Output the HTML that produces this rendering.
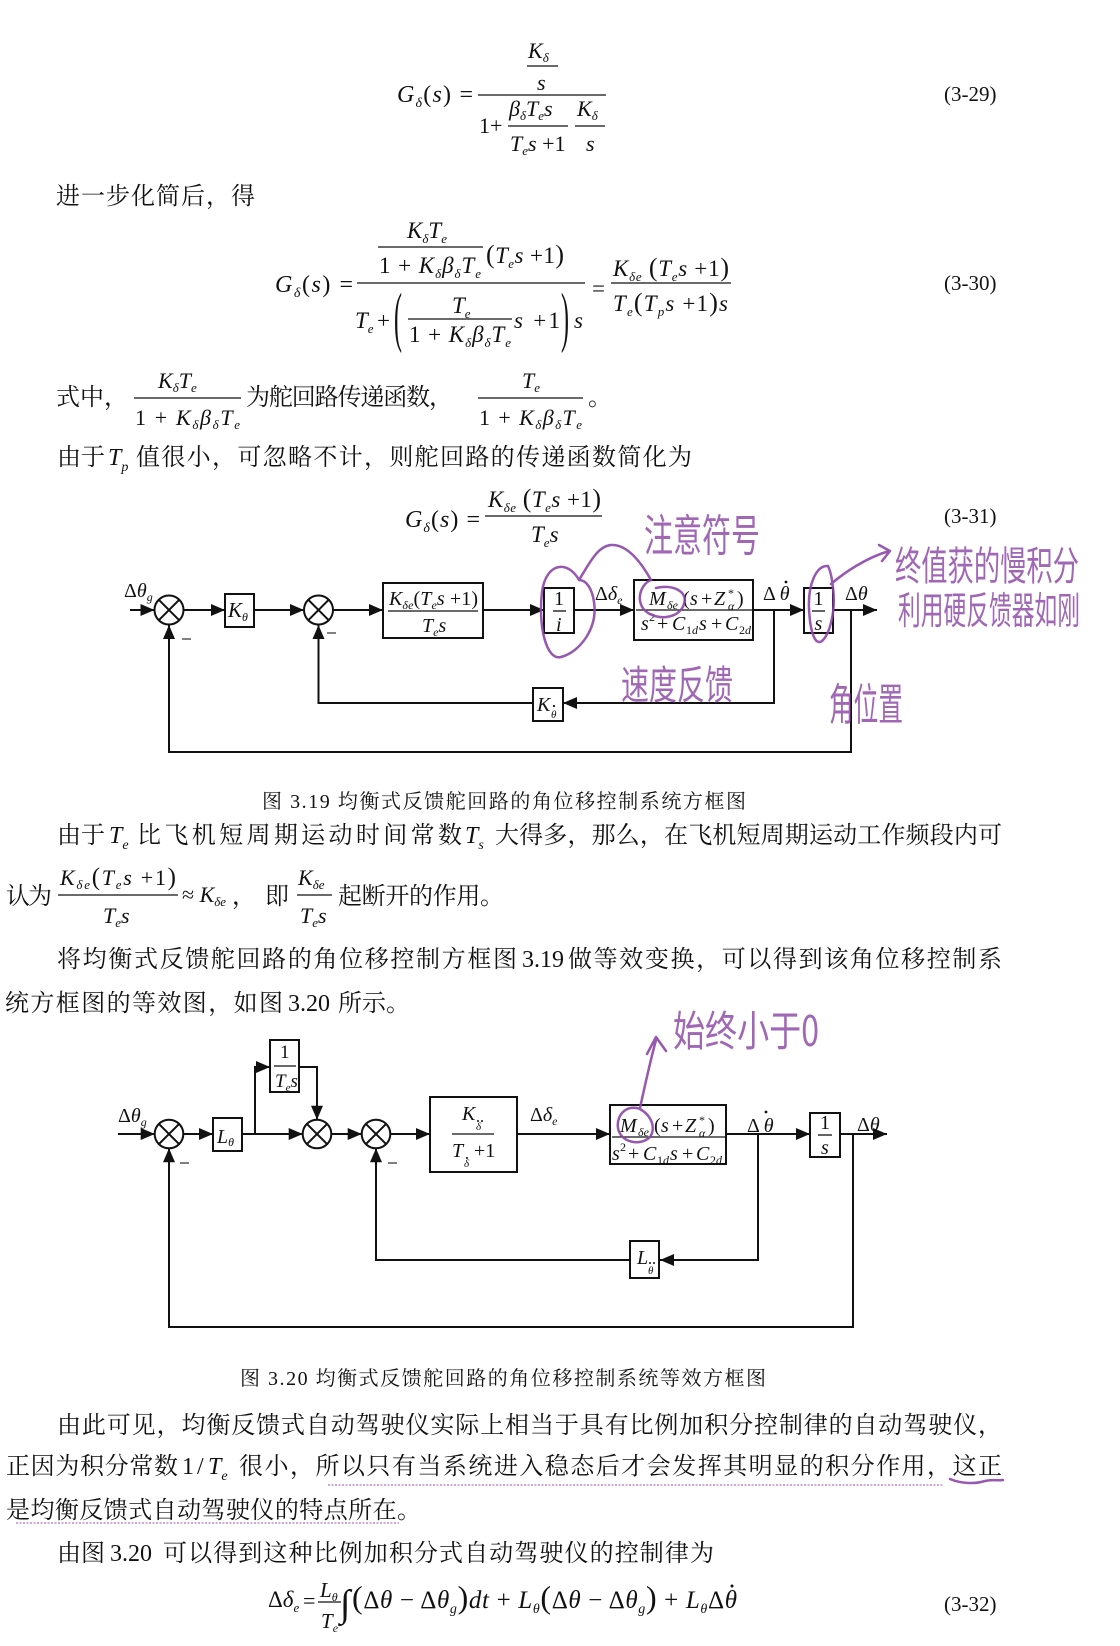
<!DOCTYPE html>
<html><head><meta charset="utf-8">
<style>
html,body{margin:0;padding:0;background:#fff;overflow:hidden;}
svg{display:block;}
svg text{font-family:"Liberation Serif","Noto Serif CJK SC",serif;fill:#111;}
.i{font-style:italic;}
.hw{font-family:"Noto Sans CJK SC","WenQuanYi Zen Hei",sans-serif;fill:#8c46a6;opacity:.82;}
.ln{stroke:#111;stroke-width:2;fill:none;}
.bx{stroke:#111;stroke-width:2;fill:none;}
.fl{stroke:#111;stroke-width:1.3;}
.pp{stroke:#8c46a6;stroke-width:2.5;fill:none;stroke-linecap:round;stroke-linejoin:round;opacity:.9;}
.ud{stroke:#b58cca;stroke-width:1.6;stroke-dasharray:2 1.5;}
</style></head>
<body>
<svg width="1120" height="1646" viewBox="0 0 1120 1646" xmlns="http://www.w3.org/2000/svg">
<defs>
<marker id="ar" viewBox="0 0 14 12" markerWidth="14" markerHeight="12" refX="14" refY="6" orient="auto" markerUnits="userSpaceOnUse"><path d="M0,0 L14,6 L0,12 z" fill="#111"/></marker>
</defs>

<!-- ===== Formula 3-29 ===== -->
<text x="397" y="102" font-size="24" textLength="76"><tspan class="i">G</tspan><tspan class="i" font-size="14" dy="5">δ</tspan><tspan dy="-5">(</tspan><tspan class="i">s</tspan>) =</text>
<text x="528" y="58" font-size="22"><tspan class="i">K</tspan><tspan class="i" font-size="13" dy="4">δ</tspan></text>
<line x1="527" y1="66" x2="558" y2="66" class="fl"/>
<text x="537" y="90" class="i" font-size="22">s</text>
<line x1="478" y1="95" x2="606" y2="95" class="fl"/>
<text x="479" y="133" font-size="22">1+</text>
<text x="509" y="116" font-size="22"><tspan class="i">β</tspan><tspan class="i" font-size="13" dy="4">δ</tspan><tspan class="i" dy="-4">T</tspan><tspan class="i" font-size="13" dy="4">e</tspan><tspan class="i" dy="-4">s</tspan></text>
<line x1="508" y1="126" x2="568" y2="126" class="fl"/>
<text x="510" y="151" font-size="22"><tspan class="i">T</tspan><tspan class="i" font-size="13" dy="4">e</tspan><tspan class="i" dy="-4">s</tspan> +1</text>
<text x="577" y="116" font-size="22"><tspan class="i">K</tspan><tspan class="i" font-size="13" dy="4">δ</tspan></text>
<line x1="575" y1="126" x2="605" y2="126" class="fl"/>
<text x="586" y="151" class="i" font-size="22">s</text>
<text x="944" y="101" font-size="21">(3-29)</text>

<!-- L1 -->
<text x="56" y="204" font-size="24" textLength="199" lengthAdjust="spacing">进一步化简后，得</text>

<!-- ===== Formula 3-30 ===== -->
<text x="275" y="292" font-size="24" textLength="78"><tspan class="i">G</tspan><tspan class="i" font-size="14" dy="5">δ</tspan><tspan dy="-5">(</tspan><tspan class="i">s</tspan>) =</text>
<text x="407" y="238" font-size="23"><tspan class="i">K</tspan><tspan class="i" font-size="13" dy="5">δ</tspan><tspan class="i" dy="-5">T</tspan><tspan class="i" font-size="13" dy="5">e</tspan></text>
<line x1="378" y1="247" x2="483" y2="247" class="fl"/>
<text x="379" y="273" font-size="23" textLength="102">1 + <tspan class="i">K</tspan><tspan class="i" font-size="13" dy="5">δ</tspan><tspan class="i" dy="-5">β</tspan><tspan class="i" font-size="13" dy="5">δ</tspan><tspan class="i" dy="-5">T</tspan><tspan class="i" font-size="13" dy="5">e</tspan></text>
<text x="486" y="263" font-size="23" textLength="78"><tspan font-size="26">(</tspan><tspan class="i">T</tspan><tspan class="i" font-size="13" dy="5">e</tspan><tspan class="i" dy="-5">s</tspan> +1<tspan font-size="26">)</tspan></text>
<line x1="357" y1="283" x2="585" y2="283" class="fl"/>
<text x="355" y="328" font-size="23" class="i">T<tspan font-size="13" dy="5">e</tspan></text>
<text x="377" y="328" font-size="23">+</text>
<text transform="translate(394,339) scale(1,2.8)" font-size="24">(</text>
<text x="452" y="313" font-size="23" class="i">T<tspan font-size="13" dy="5">e</tspan></text>
<line x1="408" y1="319" x2="512" y2="319" class="fl"/>
<text x="409" y="342" font-size="23" textLength="102">1 + <tspan class="i">K</tspan><tspan class="i" font-size="13" dy="5">δ</tspan><tspan class="i" dy="-5">β</tspan><tspan class="i" font-size="13" dy="5">δ</tspan><tspan class="i" dy="-5">T</tspan><tspan class="i" font-size="13" dy="5">e</tspan></text>
<text x="514" y="328" font-size="23" textLength="46"><tspan class="i">s</tspan> +1</text>
<text transform="translate(561,339) scale(1,2.8)" font-size="24">)</text>
<text x="574" y="328" class="i" font-size="23">s</text>
<text x="592" y="296" font-size="23">=</text>
<text x="613" y="276" font-size="23" textLength="116"><tspan class="i">K</tspan><tspan class="i" font-size="13" dy="5">δe</tspan><tspan dy="-5"> </tspan><tspan font-size="26">(</tspan><tspan class="i">T</tspan><tspan class="i" font-size="13" dy="5">e</tspan><tspan class="i" dy="-5">s</tspan> +1<tspan font-size="26">)</tspan></text>
<line x1="611" y1="283" x2="731" y2="283" class="fl"/>
<text x="613" y="311" font-size="23" textLength="115"><tspan class="i">T</tspan><tspan class="i" font-size="13" dy="5">e</tspan><tspan dy="-5" font-size="26">(</tspan><tspan class="i">T</tspan><tspan class="i" font-size="13" dy="5">p</tspan><tspan class="i" dy="-5">s</tspan> +1<tspan font-size="26">)</tspan><tspan class="i">s</tspan></text>
<text x="944" y="290" font-size="21">(3-30)</text>

<!-- L2 式中 -->
<text x="56" y="405" font-size="24">式中，</text>
<text x="158" y="388" font-size="22"><tspan class="i">K</tspan><tspan class="i" font-size="13" dy="4">δ</tspan><tspan class="i" dy="-4">T</tspan><tspan class="i" font-size="13" dy="4">e</tspan></text>
<line x1="134" y1="398" x2="241" y2="398" class="fl"/>
<text x="135" y="425" font-size="22" textLength="105">1 + <tspan class="i">K</tspan><tspan class="i" font-size="13" dy="4">δ</tspan><tspan class="i" dy="-4">β</tspan><tspan class="i" font-size="13" dy="4">δ</tspan><tspan class="i" dy="-4">T</tspan><tspan class="i" font-size="13" dy="4">e</tspan></text>
<text x="246" y="405" font-size="24" textLength="207" lengthAdjust="spacing">为舵回路传递函数，</text>
<text x="522" y="388" font-size="22" class="i">T<tspan font-size="13" dy="4">e</tspan></text>
<line x1="478" y1="398" x2="583" y2="398" class="fl"/>
<text x="479" y="425" font-size="22" textLength="103">1 + <tspan class="i">K</tspan><tspan class="i" font-size="13" dy="4">δ</tspan><tspan class="i" dy="-4">β</tspan><tspan class="i" font-size="13" dy="4">δ</tspan><tspan class="i" dy="-4">T</tspan><tspan class="i" font-size="13" dy="4">e</tspan></text>
<text x="588" y="405" font-size="24">。</text>

<!-- L3 -->
<text x="57" y="465" font-size="24" textLength="48">由于</text>
<text x="108" y="465" font-size="24" class="i">T<tspan font-size="14" dy="6">p</tspan></text>
<text x="136" y="465" font-size="24" textLength="556" lengthAdjust="spacing">值很小，可忽略不计，则舵回路的传递函数简化为</text>

<!-- Formula 3-31 -->
<text x="405" y="527" font-size="24" textLength="75"><tspan class="i">G</tspan><tspan class="i" font-size="14" dy="5">δ</tspan><tspan dy="-5">(</tspan><tspan class="i">s</tspan>) =</text>
<text x="488" y="507" font-size="23" textLength="113"><tspan class="i">K</tspan><tspan class="i" font-size="13" dy="5">δe</tspan><tspan dy="-5"> </tspan><tspan font-size="26">(</tspan><tspan class="i">T</tspan><tspan class="i" font-size="13" dy="5">e</tspan><tspan class="i" dy="-5">s</tspan> +1<tspan font-size="26">)</tspan></text>
<line x1="485" y1="516" x2="602" y2="516" class="fl"/>
<text x="531" y="542" font-size="23" class="i">T<tspan font-size="13" dy="5">e</tspan><tspan dy="-5">s</tspan></text>
<text x="944" y="523" font-size="21">(3-31)</text>

<!-- ===== Diagram 1 ===== -->
<g>
<text x="124" y="597" font-size="20">Δ<tspan class="i">θ</tspan><tspan class="i" font-size="12" dy="4">g</tspan></text>
<line x1="130" y1="610" x2="154.5" y2="610" class="ln" marker-end="url(#ar)"/>
<circle cx="169" cy="610" r="14.5" class="bx"/>
<line x1="158.7" y1="599.7" x2="179.3" y2="620.3" class="ln"/>
<line x1="158.7" y1="620.3" x2="179.3" y2="599.7" class="ln"/>
<line x1="182" y1="639" x2="191" y2="639" stroke="#555" stroke-width="1.5"/>
<line x1="183.5" y1="610" x2="225" y2="610" class="ln" marker-end="url(#ar)"/>
<rect x="225" y="594" width="29" height="33" class="bx"/>
<text x="228" y="617" font-size="21" class="i">K<tspan font-size="12" dy="4">θ</tspan></text>
<line x1="254" y1="610" x2="304" y2="610" class="ln" marker-end="url(#ar)"/>
<circle cx="318.5" cy="610" r="14.5" class="bx"/>
<line x1="308.2" y1="599.7" x2="328.8" y2="620.3" class="ln"/>
<line x1="308.2" y1="620.3" x2="328.8" y2="599.7" class="ln"/>
<line x1="327" y1="633" x2="336" y2="633" stroke="#555" stroke-width="1.5"/>
<line x1="333" y1="610" x2="383" y2="610" class="ln" marker-end="url(#ar)"/>
<rect x="383" y="583" width="100" height="55" class="bx"/>
<text x="389" y="605" font-size="20" textLength="89"><tspan class="i">K</tspan><tspan class="i" font-size="12" dy="4">δe</tspan><tspan dy="-4">(</tspan><tspan class="i">T</tspan><tspan class="i" font-size="12" dy="4">e</tspan><tspan class="i" dy="-4">s</tspan> +1)</text>
<line x1="388" y1="611" x2="478" y2="611" class="fl"/>
<text x="422" y="632" font-size="20" class="i">T<tspan font-size="12" dy="4">e</tspan><tspan dy="-4">s</tspan></text>
<line x1="483" y1="610" x2="544" y2="610" class="ln" marker-end="url(#ar)"/>
<rect x="544" y="588" width="30" height="45" class="bx"/>
<text x="554" y="605" font-size="20">1</text>
<line x1="553" y1="611" x2="566" y2="611" class="fl"/>
<text x="556" y="631" font-size="20" class="i">i</text>
<line x1="574" y1="610" x2="634" y2="610" class="ln" marker-end="url(#ar)"/>
<text x="595" y="600" font-size="20">Δ<tspan class="i">δ</tspan><tspan class="i" font-size="12" dy="4">e</tspan></text>
<rect x="634" y="580" width="119" height="60" class="bx"/>
<line x1="636" y1="610" x2="752" y2="610" class="fl"/>
<text y="605" font-size="20"><tspan x="649" class="i">M</tspan><tspan x="667" y="609" class="i" font-size="12">δe</tspan><tspan x="683" y="605">(</tspan><tspan x="690" class="i">s</tspan><tspan x="701">+</tspan><tspan x="714" class="i">Z</tspan></text>
<text x="728" y="597" font-size="12">*</text>
<text x="728" y="610" font-size="12" class="i">α</text>
<text x="737" y="605" font-size="20">)</text>
<text y="630" font-size="20"><tspan x="641" class="i">s</tspan><tspan x="649" y="621" font-size="12">2</tspan><tspan x="657" y="630">+</tspan><tspan x="672" class="i">C</tspan><tspan x="686" y="634" font-size="12">1</tspan><tspan class="i" font-size="12">d</tspan><tspan x="699" y="630" class="i">s</tspan><tspan x="711">+</tspan><tspan x="725" class="i">C</tspan><tspan x="739" y="634" font-size="12">2</tspan><tspan class="i" font-size="12">d</tspan></text>
<line x1="753" y1="610" x2="804" y2="610" class="ln" marker-end="url(#ar)"/>
<text x="763" y="600" font-size="20">Δ <tspan class="i">θ</tspan></text>
<circle cx="786" cy="582" r="1.4" fill="#111"/>
<polyline points="774,610 774,703 563,703" class="ln" marker-end="url(#ar)"/>
<rect x="533" y="688" width="30" height="33" class="bx"/>
<text x="537" y="711" font-size="20" class="i">K</text>
<text x="551" y="718" font-size="11" class="i">θ</text>
<circle cx="554" cy="706" r="1.1" fill="#111"/>
<polyline points="533,703 318.5,703 318.5,625" class="ln" marker-end="url(#ar)"/>
<rect x="804" y="588" width="29" height="45" class="bx"/>
<text x="813.5" y="605" font-size="20">1</text>
<line x1="812" y1="611" x2="825" y2="611" class="fl"/>
<text x="814.5" y="630" font-size="20" class="i">s</text>
<line x1="833" y1="610" x2="877" y2="610" class="ln" marker-end="url(#ar)"/>
<text x="845" y="600" font-size="20">Δ<tspan class="i">θ</tspan></text>
<polyline points="851,610 851,752 169,752 169,625" class="ln" marker-end="url(#ar)"/>
</g>

<!-- handwriting diagram 1 -->
<text class="hw" x="644" y="551" font-size="44" textLength="116" lengthAdjust="spacingAndGlyphs">注意符号</text>
<path class="pp" d="M579,580 C568,560 546,562 542,592 C538,625 546,661 561,657 C580,652 598,628 594,602 C592,588 586,580 579,580 M579,580 C590,562 598,546 611,545 C626,544 640,560 651,580 C640,584 634,604 648,613 C662,621 680,617 684,604 C688,592 674,584 656,588"/>
<path class="pp" d="M828,566 C816,565 808,585 809,608 C810,632 815,646 822,641 C830,634 836,610 833,588 C832,578 830,570 828,566 M831,584 C845,572 866,558 889,551 M879,545 L890,551 L882,561"/>
<text class="hw" x="895" y="580" font-size="40" textLength="184" lengthAdjust="spacingAndGlyphs">终值获的慢积分</text>
<text class="hw" x="898" y="624" font-size="38" textLength="182" lengthAdjust="spacingAndGlyphs">利用硬反馈器如刚</text>
<text class="hw" x="621" y="699" font-size="40" textLength="112" lengthAdjust="spacingAndGlyphs">速度反馈</text>
<text class="hw" x="829" y="720" font-size="44" textLength="74" lengthAdjust="spacingAndGlyphs">角位置</text>

<!-- caption 1 -->
<text x="262" y="808" font-size="20" textLength="484" lengthAdjust="spacing">图 3.19 均衡式反馈舵回路的角位移控制系统方框图</text>

<!-- L7 -->
<text x="57" y="843" font-size="24" textLength="48">由于</text>
<text x="109" y="843" font-size="24" class="i">T<tspan font-size="14" dy="6">e</tspan></text>
<text x="137" y="843" font-size="24" textLength="325" lengthAdjust="spacing">比飞机短周期运动时间常数</text>
<text x="465" y="843" font-size="24" class="i">T<tspan font-size="14" dy="6">s</tspan></text>
<text x="495" y="843" font-size="24" textLength="507" lengthAdjust="spacing">大得多，那么，在飞机短周期运动工作频段内可</text>

<!-- L8 -->
<text x="6" y="904" font-size="24" textLength="46">认为</text>
<text x="60" y="885" font-size="22" textLength="116"><tspan class="i">K</tspan><tspan class="i" font-size="13" dy="4">δe</tspan><tspan dy="-4" font-size="25">(</tspan><tspan class="i">T</tspan><tspan class="i" font-size="13" dy="4">e</tspan><tspan class="i" dy="-4">s</tspan> +1<tspan font-size="25">)</tspan></text>
<line x1="58" y1="895" x2="178" y2="895" class="fl"/>
<text x="103" y="923" font-size="22" class="i">T<tspan font-size="13" dy="4">e</tspan><tspan dy="-4">s</tspan></text>
<text x="182" y="902" font-size="22">≈ <tspan class="i">K</tspan><tspan class="i" font-size="13" dy="4">δe</tspan></text>
<text x="232" y="904" font-size="24">，</text>
<text x="265" y="904" font-size="24">即</text>
<text x="298" y="885" font-size="22" class="i">K<tspan font-size="13" dy="4">δe</tspan></text>
<line x1="297" y1="895" x2="332" y2="895" class="fl"/>
<text x="300" y="923" font-size="22" class="i">T<tspan font-size="13" dy="4">e</tspan><tspan dy="-4">s</tspan></text>
<text x="338" y="904" font-size="24" textLength="166" lengthAdjust="spacing">起断开的作用。</text>

<!-- L9, L10 -->
<text x="57" y="967" font-size="24" textLength="460" lengthAdjust="spacing">将均衡式反馈舵回路的角位移控制方框图</text>
<text x="522" y="967" font-size="24">3.19</text>
<text x="568" y="967" font-size="24" textLength="434" lengthAdjust="spacing">做等效变换，可以得到该角位移控制系</text>
<text x="5" y="1011" font-size="24" textLength="278" lengthAdjust="spacing">统方框图的等效图，如图</text>
<text x="288" y="1011" font-size="24">3.20</text>
<text x="338" y="1011" font-size="24" textLength="72" lengthAdjust="spacing">所示。</text>

<!-- ===== Diagram 2 ===== -->
<g>
<text x="118" y="1122" font-size="20">Δ<tspan class="i">θ</tspan><tspan class="i" font-size="12" dy="4">g</tspan></text>
<line x1="118" y1="1134" x2="154.7" y2="1134" class="ln" marker-end="url(#ar)"/>
<circle cx="169" cy="1134" r="14.3" class="bx"/>
<line x1="158.9" y1="1123.9" x2="179.1" y2="1144.1" class="ln"/>
<line x1="158.9" y1="1144.1" x2="179.1" y2="1123.9" class="ln"/>
<line x1="180" y1="1163" x2="189" y2="1163" stroke="#555" stroke-width="1.5"/>
<line x1="183.3" y1="1134" x2="213" y2="1134" class="ln" marker-end="url(#ar)"/>
<rect x="213" y="1118" width="29" height="33" class="bx"/>
<text x="217" y="1143" font-size="20" class="i">L<tspan font-size="12" dy="3">θ</tspan></text>
<line x1="242" y1="1134" x2="302.7" y2="1134" class="ln" marker-end="url(#ar)"/>
<polyline points="255,1134 255,1067 270,1067" class="ln" marker-end="url(#ar)"/>
<rect x="270" y="1040" width="29" height="52" class="bx"/>
<text x="280" y="1058" font-size="19">1</text>
<line x1="274" y1="1066" x2="296" y2="1066" class="fl"/>
<text x="275" y="1087" font-size="19" class="i">T<tspan font-size="11" dy="4">e</tspan><tspan dy="-4">s</tspan></text>
<polyline points="299,1067 317,1067 317,1119.7" class="ln" marker-end="url(#ar)"/>
<circle cx="317" cy="1134" r="14.3" class="bx"/>
<line x1="306.9" y1="1123.9" x2="327.1" y2="1144.1" class="ln"/>
<line x1="306.9" y1="1144.1" x2="327.1" y2="1123.9" class="ln"/>
<line x1="331.3" y1="1134" x2="361.7" y2="1134" class="ln" marker-end="url(#ar)"/>
<circle cx="376" cy="1134" r="14.3" class="bx"/>
<line x1="365.9" y1="1123.9" x2="386.1" y2="1144.1" class="ln"/>
<line x1="365.9" y1="1144.1" x2="386.1" y2="1123.9" class="ln"/>
<line x1="388" y1="1163" x2="397" y2="1163" stroke="#555" stroke-width="1.5"/>
<line x1="390.3" y1="1134" x2="430" y2="1134" class="ln" marker-end="url(#ar)"/>
<rect x="430" y="1097" width="87" height="75" class="bx"/>
<text x="462" y="1120" font-size="20" class="i">K</text>
<text x="476" y="1130" font-size="11" class="i">δ</text>
<circle cx="478" cy="1121" r="1" fill="#111"/><circle cx="482" cy="1121" r="1" fill="#111"/>
<line x1="452" y1="1134" x2="494" y2="1134" class="fl"/>
<text x="452" y="1157" font-size="20" class="i">T</text>
<text x="464" y="1167" font-size="11" class="i">δ</text>
<circle cx="467" cy="1158" r="1" fill="#111"/>
<text x="474" y="1157" font-size="20">+1</text>
<line x1="517" y1="1134" x2="610" y2="1134" class="ln" marker-end="url(#ar)"/>
<text x="530" y="1121" font-size="20">Δ<tspan class="i">δ</tspan><tspan class="i" font-size="12" dy="4">e</tspan></text>
<rect x="610" y="1105" width="116" height="59" class="bx"/>
<line x1="612" y1="1137" x2="725" y2="1137" class="fl"/>
<g transform="translate(-29,527)">
<text y="605" font-size="20"><tspan x="649" class="i">M</tspan><tspan x="667" y="609" class="i" font-size="12">δe</tspan><tspan x="683" y="605">(</tspan><tspan x="690" class="i">s</tspan><tspan x="701">+</tspan><tspan x="714" class="i">Z</tspan></text>
<text x="728" y="597" font-size="12">*</text>
<text x="728" y="610" font-size="12" class="i">α</text>
<text x="737" y="605" font-size="20">)</text>
</g>
<g transform="translate(-29,530)">
<text y="630" font-size="20"><tspan x="641" class="i">s</tspan><tspan x="649" y="621" font-size="12">2</tspan><tspan x="657" y="630">+</tspan><tspan x="672" class="i">C</tspan><tspan x="686" y="634" font-size="12">1</tspan><tspan class="i" font-size="12">d</tspan><tspan x="699" y="630" class="i">s</tspan><tspan x="711">+</tspan><tspan x="725" class="i">C</tspan><tspan x="739" y="634" font-size="12">2</tspan><tspan class="i" font-size="12">d</tspan></text>
</g>
<line x1="726" y1="1134" x2="810" y2="1134" class="ln" marker-end="url(#ar)"/>
<text x="747" y="1132" font-size="20">Δ <tspan class="i">θ</tspan></text>
<circle cx="766" cy="1112" r="1.4" fill="#111"/>
<polyline points="758,1134 758,1260 660,1260" class="ln" marker-end="url(#ar)"/>
<rect x="630" y="1241" width="29" height="37" class="bx"/>
<text x="637" y="1264" font-size="20" class="i">L</text>
<text x="648" y="1274" font-size="11" class="i">θ</text>
<circle cx="650" cy="1263" r="1" fill="#111"/><circle cx="654" cy="1263" r="1" fill="#111"/>
<polyline points="630,1260 376,1260 376,1148.3" class="ln" marker-end="url(#ar)"/>
<rect x="810" y="1113" width="30" height="44" class="bx"/>
<text x="820" y="1129" font-size="20">1</text>
<line x1="818" y1="1135" x2="832" y2="1135" class="fl"/>
<text x="821" y="1154" font-size="20" class="i">s</text>
<line x1="840" y1="1134" x2="887" y2="1134" class="ln" marker-end="url(#ar)"/>
<text x="857" y="1131" font-size="20">Δ<tspan class="i">θ</tspan></text>
<polyline points="853,1134 853,1327 169,1327 169,1148.3" class="ln" marker-end="url(#ar)"/>
</g>

<!-- handwriting diagram 2 -->
<path class="pp" d="M640,1109 C628,1104 616,1114 618,1128 C620,1142 640,1147 650,1137 C656,1128 652,1116 640,1109 M640,1108 C645,1085 650,1062 656,1040 M647,1054 L656,1037 L666,1051"/>
<text class="hw" x="673" y="1046" font-size="42" textLength="146" lengthAdjust="spacingAndGlyphs">始终小于0</text>

<!-- caption 2 -->
<text x="240" y="1385" font-size="20" textLength="526" lengthAdjust="spacing">图 3.20 均衡式反馈舵回路的角位移控制系统等效方框图</text>

<!-- L13 - L16 -->
<text x="57" y="1433" font-size="24" textLength="945" lengthAdjust="spacing">由此可见，均衡反馈式自动驾驶仪实际上相当于具有比例加积分控制律的自动驾驶仪，</text>
<text x="6" y="1474" font-size="24" textLength="172" lengthAdjust="spacing">正因为积分常数</text>
<text x="182" y="1474" font-size="24">1</text>
<text x="197" y="1474" font-size="24">/</text>
<text x="208" y="1474" font-size="24" class="i">T<tspan font-size="14" dy="6">e</tspan></text>
<text x="239" y="1474" font-size="24" textLength="763" lengthAdjust="spacing">很小，所以只有当系统进入稳态后才会发挥其明显的积分作用，这正</text>
<line x1="328" y1="1485" x2="944" y2="1485" class="ud"/>
<path class="pp" d="M950,1479 C962,1484 975,1484 985,1481 C993,1479 998,1481 1003,1480"/>
<text x="6" y="1518" font-size="24" textLength="415" lengthAdjust="spacing">是均衡反馈式自动驾驶仪的特点所在。</text>
<line x1="16" y1="1523" x2="399" y2="1523" class="ud"/>
<text x="57" y="1561" font-size="24" textLength="48">由图</text>
<text x="110" y="1561" font-size="24">3.20</text>
<text x="163" y="1561" font-size="24" textLength="551" lengthAdjust="spacing">可以得到这种比例加积分式自动驾驶仪的控制律为</text>

<!-- Formula 3-32 -->
<text x="268" y="1607" font-size="23">Δ<tspan class="i">δ</tspan><tspan class="i" font-size="13" dy="5">e</tspan></text>
<text x="303" y="1608" font-size="22">=</text>
<text x="320" y="1597" font-size="21" class="i">L<tspan font-size="12" dy="4">θ</tspan></text>
<line x1="318" y1="1602" x2="341" y2="1602" class="fl"/>
<text x="321" y="1628" font-size="21" class="i">T<tspan font-size="12" dy="4">e</tspan></text>
<text x="340" y="1616" font-size="38">∫</text>
<text x="352" y="1608" font-size="25" textLength="385" lengthAdjust="spacing"><tspan font-size="32">(</tspan>Δ<tspan class="i">θ</tspan> − Δ<tspan class="i">θ</tspan><tspan class="i" font-size="14" dy="5">g</tspan><tspan font-size="32" dy="-5">)</tspan><tspan class="i">dt</tspan> + <tspan class="i">L</tspan><tspan class="i" font-size="14" dy="5">θ</tspan><tspan font-size="32" dy="-5">(</tspan>Δ<tspan class="i">θ</tspan> − Δ<tspan class="i">θ</tspan><tspan class="i" font-size="14" dy="5">g</tspan><tspan font-size="32" dy="-5">)</tspan> + <tspan class="i">L</tspan><tspan class="i" font-size="14" dy="5">θ</tspan><tspan dy="-5">Δ</tspan><tspan class="i">θ</tspan></text>
<circle cx="732" cy="1586" r="1.5" fill="#111"/>
<text x="944" y="1611" font-size="21">(3-32)</text>
</svg>
</body></html>
